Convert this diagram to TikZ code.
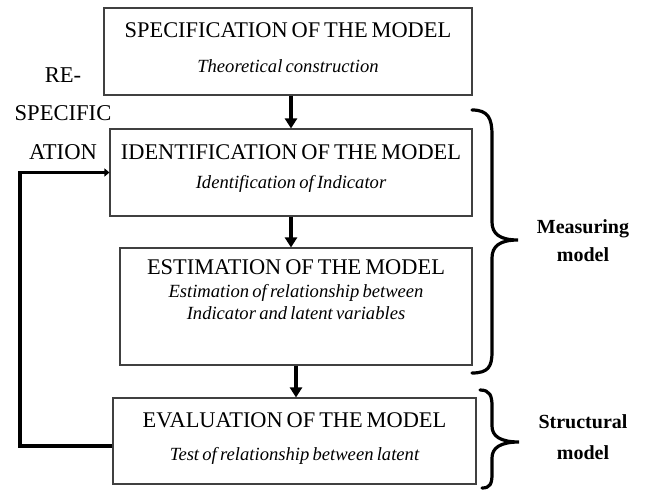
\documentclass[tikz,border=0pt]{standalone}
\usepackage{fontspec}
\setmainfont{Liberation Serif}[WordSpace=0.7]
\usetikzlibrary{arrows.meta}
\tikzset{
  stage/.style={draw=black!75,line width=1.1pt,minimum width=#1,inner sep=0pt},
  heading/.style={font=\fontsize{22.4}{26}\selectfont,inner sep=0pt},
  sub/.style={font=\fontsize{18.6}{21.5}\selectfont\itshape,align=center,inner sep=0pt},
  side/.style={font=\fontsize{20}{28}\selectfont\bfseries,align=center,inner sep=0pt},
  flow/.style={line width=3.4pt,-{Triangle[length=10pt,width=12pt]}},
  back/.style={line width=3.4pt,-{Triangle[length=5pt,width=8pt]}},
  brc/.style={line width=3.2pt,line cap=round}
}
\begin{document}
\begin{tikzpicture}[x=1pt,y=-1pt]
	\useasboundingbox (0,0) rectangle (653,497);
	% 四个阶段
	\node[stage=368pt,minimum height=87pt] (spec) at (288,51.5) {};
	\node[stage=362pt,minimum height=87pt] (ident) at (291,172.5) {};
	\node[stage=352pt,minimum height=117pt] (estim) at (296,306.5) {};
	\node[stage=363pt,minimum height=86pt] (evalu) at (294.5,441) {};
	\node[heading] (spect) at ([yshift=-23pt]spec.north) {SPECIFICATION OF THE MODEL};
	\node[sub] (specs) at ([yshift=-59pt]spec.north) {Theoretical construction};
	\node[heading] (identt) at ([yshift=-24pt]ident.north) {IDENTIFICATION OF THE MODEL};
	\node[sub] (idents) at ([yshift=-55pt]ident.north) {Identification of Indicator};
	\node[heading] (estimt) at ([yshift=-20pt]estim.north) {ESTIMATION OF THE MODEL};
	\node[sub] (estims) at ([yshift=-54.5pt]estim.north) {Estimation of relationship between\\Indicator and latent variables};
	\node[heading] (evalut) at ([yshift=-23pt]evalu.north) {EVALUATION OF THE MODEL};
	\node[sub] (evalus) at ([yshift=-58pt]evalu.north) {Test of relationship between latent};
	% 箭头
	\draw[flow] (spec.south -| ident.north) -- (ident.north);
	\draw[flow] (ident.south) -- (ident.south |- estim.north);
	\draw[flow] (estim.south) -- (estim.south |- evalu.north);
	% 反馈
	\node[font=\fontsize{22.6}{38.5}\selectfont,align=center,inner sep=0pt] (respec) at (63,113.5) {RE-\\SPECIFIC\\ATION};
	\coordinate (b1) at (20,446);
	\draw[back] ([yshift=-5pt]evalu.west) -- (b1) |- (ident.west);
	% 括号
	\draw[brc] (472,110) .. controls (488,110) and (492,118) .. (492,135) -- (492,222)
		.. controls (492,234) and (500,240) .. (518,240)
		.. controls (500,240) and (492,246) .. (492,258) -- (492,352)
		.. controls (492,367) and (488,373) .. (472,373);
	\draw[brc] (480,390) .. controls (490,390) and (492,396) .. (492,406) -- (492,426)
		.. controls (492,436) and (500,442) .. (519,442)
		.. controls (500,442) and (492,448) .. (492,458) -- (492,474)
		.. controls (492,484) and (490,488) .. (482,488);
	\node[side] (meas) at (583,241) {Measuring\\model};
	\node[side,font=\fontsize{20}{31}\selectfont\bfseries] (struc) at (583,437) {Structural\\model};
\end{tikzpicture}
\end{document}
